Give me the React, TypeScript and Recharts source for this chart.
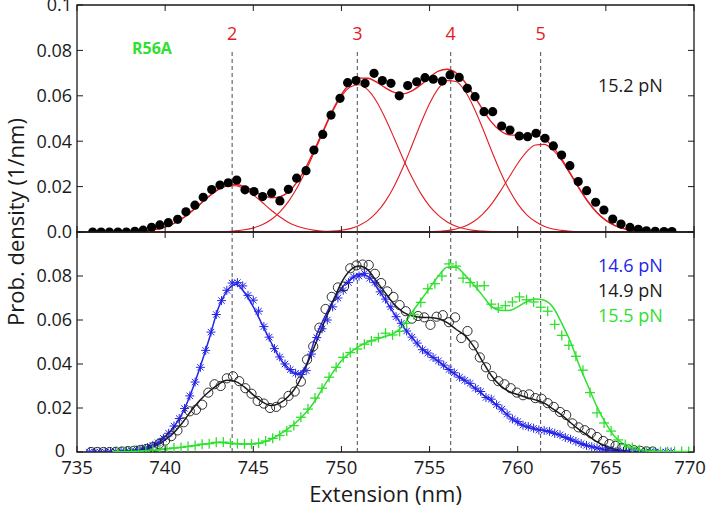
import React from 'react'
import { ComposedChart, Line, Scatter, XAxis, YAxis, ReferenceLine, ReferenceArea, ReferenceDot } from 'recharts'

const FONT = '"Open Sans", "Noto Sans", sans-serif'
const INK = '#1a1a1a'
const RED = '#e41b22'
const BLUE = '#2424e8'
const GREEN = '#2fe02f'
const DASH = '#4a4a4a'

const PLOT_TOP = 5
const PLOT_RIGHT = 694

const xTicks = [735, 740, 745, 750, 755, 760, 765, 770]
const topYTicks = [0, 0.02, 0.04, 0.06, 0.08, 0.1]
const bottomYTicks = [0, 0.02, 0.04, 0.06, 0.08]

const peakNames = ['2', '3', '4', '5']
const peakCenters = [743.8, 750.9, 756.2, 761.3]

// fit grid, 0.5 nm
const grid = [736, 736.5, 737, 737.5, 738, 738.5, 739, 739.5, 740, 740.5, 741, 741.5, 742, 742.5, 743, 743.5, 744, 744.5, 745, 745.5, 746, 746.5, 747, 747.5, 748, 748.5, 749, 749.5, 750, 750.5, 751, 751.5, 752, 752.5, 753, 753.5, 754, 754.5, 755, 755.5, 756, 756.5, 757, 757.5, 758, 758.5, 759, 759.5, 760, 760.5, 761, 761.5, 762, 762.5, 763, 763.5, 764, 764.5, 765, 765.5, 766, 766.5, 767, 767.5, 768, 768.5, 769]

// 15.2 pN: gaussian components and their sum
const peak2 = [0, 0, 0, 0, 0.0001, 0.0003, 0.0006, 0.0012, 0.0022, 0.0038, 0.0061, 0.0091, 0.0124, 0.0158, 0.0186, 0.0202, 0.0204, 0.019, 0.0164, 0.0131, 0.0097, 0.0067, 0.0042, 0.0025, 0.0014, 0.0007, 0.0003, 0.0001, 0, 0, 0, 0, 0, 0, 0, 0, 0, 0, 0, 0, 0, 0, 0, 0, 0, 0, 0, 0, 0, 0, 0, 0, 0, 0, 0, 0, 0, 0, 0, 0, 0, 0, 0, 0, 0, 0, 0]
const peak3 = [0, 0, 0, 0, 0, 0, 0, 0, 0, 0, 0, 0, 0, 0, 0.0001, 0.0002, 0.0005, 0.001, 0.0018, 0.0032, 0.0054, 0.0088, 0.0135, 0.0197, 0.0273, 0.0359, 0.0448, 0.0531, 0.0598, 0.0639, 0.0649, 0.0626, 0.0574, 0.0499, 0.0412, 0.0323, 0.0241, 0.017, 0.0114, 0.0073, 0.0044, 0.0025, 0.0014, 0.0007, 0.0004, 0.0002, 0.0001, 0, 0, 0, 0, 0, 0, 0, 0, 0, 0, 0, 0, 0, 0, 0, 0, 0, 0, 0, 0]
const peak4 = [0, 0, 0, 0, 0, 0, 0, 0, 0, 0, 0, 0, 0, 0, 0, 0, 0, 0, 0, 0, 0, 0, 0, 0, 0, 0.0001, 0.0002, 0.0004, 0.0008, 0.0015, 0.0029, 0.0051, 0.0086, 0.0136, 0.0203, 0.0286, 0.0381, 0.0478, 0.0566, 0.0633, 0.0667, 0.0663, 0.0622, 0.055, 0.0459, 0.0361, 0.0268, 0.0188, 0.0124, 0.0077, 0.0046, 0.0025, 0.0013, 0.0007, 0.0003, 0.0001, 0, 0, 0, 0, 0, 0, 0, 0, 0, 0, 0]
const peak5 = [0, 0, 0, 0, 0, 0, 0, 0, 0, 0, 0, 0, 0, 0, 0, 0, 0, 0, 0, 0, 0, 0, 0, 0, 0, 0, 0, 0, 0, 0, 0, 0, 0, 0, 0, 0, 0, 0, 0.0001, 0.0003, 0.0006, 0.0013, 0.0025, 0.0046, 0.0078, 0.0122, 0.0178, 0.024, 0.0302, 0.0353, 0.0383, 0.0386, 0.0361, 0.0314, 0.0253, 0.019, 0.0132, 0.0085, 0.0051, 0.0029, 0.0015, 0.0007, 0.0003, 0.0001, 0, 0, 0]
const fit152 = [0, 0, 0, 0, 0.0001, 0.0003, 0.0006, 0.0012, 0.0022, 0.0038, 0.0061, 0.0091, 0.0124, 0.0158, 0.0187, 0.0204, 0.0209, 0.02, 0.0182, 0.0163, 0.0151, 0.0155, 0.0177, 0.0222, 0.0287, 0.0367, 0.0453, 0.0536, 0.0606, 0.0654, 0.0678, 0.0677, 0.066, 0.0635, 0.0615, 0.0609, 0.0622, 0.0648, 0.0681, 0.0709, 0.0717, 0.0701, 0.0661, 0.0603, 0.0541, 0.0485, 0.0447, 0.0428, 0.0426, 0.043, 0.0429, 0.0411, 0.0374, 0.0321, 0.0256, 0.0191, 0.0132, 0.0085, 0.0051, 0.0029, 0.0015, 0.0007, 0.0003, 0.0001, 0, 0, 0]

// lower panel fits
const fit146 = [0, 0, 0.0001, 0.0003, 0.0006, 0.0011, 0.002, 0.0037, 0.007, 0.0115, 0.018, 0.0275, 0.039, 0.0515, 0.065, 0.073, 0.0762, 0.0725, 0.066, 0.058, 0.05, 0.0428, 0.0375, 0.0355, 0.0395, 0.0515, 0.0605, 0.0685, 0.0745, 0.0785, 0.0808, 0.0798, 0.075, 0.069, 0.0628, 0.057, 0.052, 0.0474, 0.0441, 0.0412, 0.038, 0.035, 0.0325, 0.0295, 0.0262, 0.0232, 0.02, 0.0162, 0.0133, 0.0114, 0.0104, 0.0097, 0.0086, 0.0072, 0.0056, 0.004, 0.0028, 0.0018, 0.001, 0.0006, 0.0003, 0.0001, 0, 0, 0, 0, 0]
const fit149 = [0, 0, 0, 0.0001, 0.0003, 0.0007, 0.0015, 0.003, 0.0055, 0.0088, 0.0135, 0.019, 0.0238, 0.0275, 0.0306, 0.0326, 0.032, 0.0295, 0.026, 0.0228, 0.0211, 0.0222, 0.0253, 0.0305, 0.039, 0.0485, 0.0585, 0.068, 0.077, 0.0826, 0.0845, 0.0828, 0.0775, 0.0722, 0.067, 0.0636, 0.0619, 0.0612, 0.0611, 0.0606, 0.0588, 0.0558, 0.053, 0.048, 0.0412, 0.0348, 0.0303, 0.0275, 0.0261, 0.0248, 0.0237, 0.0222, 0.0196, 0.0168, 0.0133, 0.0101, 0.0074, 0.0046, 0.0027, 0.0013, 0.0006, 0.0002, 0, 0, 0, 0, 0]
const fit155 = [0, 0, 0, 0, 0.0001, 0.0002, 0.0005, 0.0009, 0.0014, 0.0018, 0.0022, 0.0028, 0.0034, 0.0039, 0.0043, 0.0041, 0.0037, 0.0035, 0.0037, 0.0043, 0.0058, 0.008, 0.0107, 0.014, 0.0181, 0.0232, 0.0298, 0.036, 0.0415, 0.0452, 0.048, 0.05, 0.0513, 0.0526, 0.054, 0.0575, 0.0635, 0.069, 0.0745, 0.08, 0.084, 0.084, 0.0805, 0.076, 0.0712, 0.0662, 0.0644, 0.0643, 0.066, 0.0683, 0.0696, 0.069, 0.0658, 0.0585, 0.05, 0.0392, 0.0298, 0.0205, 0.013, 0.007, 0.0036, 0.0017, 0.0007, 0.0003, 0.0001, 0, 0]

// measured histograms [extension, density]
const hist152: [number, number][] = [[735.89, 0], [736.37, 0], [736.84, 0], [737.32, 0], [737.8, 0], [738.28, 0.0003], [738.75, 0.0008], [739.23, 0.0021], [739.7, 0.0031], [740.18, 0.0041], [740.71, 0.0056], [741.18, 0.0089], [741.69, 0.0118], [742.16, 0.0153], [742.64, 0.0187], [743.11, 0.0207], [743.58, 0.0217], [744.06, 0.0229], [744.53, 0.0186], [745.04, 0.0178], [745.53, 0.0156], [746.04, 0.0172], [746.51, 0.0137], [746.99, 0.0188], [747.46, 0.0237], [747.99, 0.027], [748.44, 0.0361], [748.94, 0.043], [749.41, 0.0515], [749.92, 0.0589], [750.35, 0.0658], [750.83, 0.0667], [751.34, 0.0655], [751.85, 0.0699], [752.32, 0.0667], [752.81, 0.0655], [753.28, 0.06], [753.76, 0.0645], [754.27, 0.0662], [754.74, 0.068], [755.21, 0.0673], [755.72, 0.0665], [756.16, 0.0692], [756.68, 0.0681], [757.14, 0.0633], [757.58, 0.0596], [758.09, 0.053], [758.58, 0.053], [759.09, 0.0467], [759.56, 0.0449], [760.09, 0.0423], [760.56, 0.042], [761.04, 0.0435], [761.55, 0.0413], [762.02, 0.0379], [762.49, 0.0339], [762.96, 0.0292], [763.43, 0.0222], [763.91, 0.0182], [764.42, 0.0131], [764.89, 0.0097], [765.39, 0.0057], [765.86, 0.0035], [766.37, 0.002], [766.84, 0.0012], [767.3, 0.0005], [767.8, 0.0003], [768.3, 0.0002], [768.75, 0.0002]]

const hist146: [number, number][] = [[735.7, 0], [736.0, 0], [736.3, 0], [736.6, 0], [736.9, 0.0001], [737.2, 0.0002], [737.5, 0.0003], [737.8, 0.0005], [738.1, 0.0007], [738.4, 0.001], [738.7, 0.0014], [739.0, 0.002], [739.3, 0.003], [739.6, 0.0042], [739.9, 0.0062], [740.2, 0.0085], [740.5, 0.0118], [740.8, 0.0152], [741.1, 0.0198], [741.4, 0.0255], [741.7, 0.0318], [742.0, 0.0385], [742.3, 0.0462], [742.6, 0.0545], [742.9, 0.0625], [743.2, 0.0688], [743.5, 0.0735], [743.8, 0.0768], [744.1, 0.077], [744.4, 0.0755], [744.7, 0.0712], [745.0, 0.069], [745.3, 0.064], [745.6, 0.057], [745.9, 0.0522], [746.2, 0.047], [746.5, 0.0432], [746.8, 0.04], [747.1, 0.0375], [747.4, 0.0358], [747.7, 0.0352], [748.0, 0.037], [748.3, 0.0445], [748.6, 0.052], [748.9, 0.056], [749.2, 0.06], [749.5, 0.066], [749.8, 0.07], [750.1, 0.0735], [750.4, 0.077], [750.7, 0.0795], [751.0, 0.08], [751.3, 0.0812], [751.6, 0.079], [751.9, 0.077], [752.2, 0.0728], [752.5, 0.0695], [752.8, 0.066], [753.1, 0.0615], [753.4, 0.0585], [753.7, 0.055], [754.0, 0.0522], [754.3, 0.0495], [754.6, 0.0465], [754.9, 0.045], [755.2, 0.043], [755.5, 0.0414], [755.8, 0.0395], [756.1, 0.0375], [756.4, 0.036], [756.7, 0.034], [757.0, 0.0326], [757.3, 0.0312], [757.6, 0.029], [757.9, 0.0275], [758.2, 0.0248], [758.5, 0.024], [758.8, 0.0215], [759.1, 0.0195], [759.4, 0.0172], [759.7, 0.015], [760.0, 0.0138], [760.3, 0.0122], [760.6, 0.0115], [760.9, 0.0108], [761.2, 0.01], [761.5, 0.0098], [761.8, 0.0094], [762.1, 0.0085], [762.4, 0.0078], [762.7, 0.0066], [763.0, 0.0058], [763.3, 0.0048], [763.6, 0.0038], [763.9, 0.003], [764.2, 0.0024], [764.5, 0.0018], [764.8, 0.0013], [765.1, 0.0009], [765.4, 0.0007], [765.7, 0.0005], [766.0, 0.0003], [766.3, 0.0002], [766.6, 0.0001], [766.9, 0.0001], [767.2, 0], [767.5, 0], [767.8, 0], [768.1, 0], [768.4, 0], [768.7, 0]]

const hist149: [number, number][] = [[735.8, 0], [736.15, 0], [736.5, 0], [736.85, 0], [737.2, 0.0001], [737.55, 0.0002], [737.9, 0.0004], [738.25, 0.0006], [738.6, 0.0009], [738.95, 0.0014], [739.3, 0.0022], [739.65, 0.0036], [740.0, 0.0052], [740.35, 0.0072], [740.7, 0.0098], [741.05, 0.0135], [741.4, 0.0185], [741.75, 0.0192], [742.1, 0.0215], [742.45, 0.027], [742.8, 0.0308], [743.15, 0.03], [743.5, 0.0335], [743.85, 0.0344], [744.2, 0.0322], [744.55, 0.029], [744.9, 0.0265], [745.25, 0.0232], [745.6, 0.022], [745.95, 0.02], [746.3, 0.0205], [746.65, 0.0225], [747.0, 0.0255], [747.35, 0.0275], [747.7, 0.032], [748.05, 0.042], [748.4, 0.048], [748.75, 0.0565], [749.1, 0.065], [749.45, 0.0705], [749.8, 0.0748], [750.15, 0.0752], [750.5, 0.0835], [750.85, 0.0848], [751.2, 0.0852], [751.55, 0.085], [751.9, 0.081], [752.25, 0.0768], [752.6, 0.073], [752.95, 0.0705], [753.3, 0.0668], [753.65, 0.064], [754.0, 0.0606], [754.35, 0.0618], [754.7, 0.0612], [755.05, 0.0578], [755.4, 0.0615], [755.75, 0.0622], [756.1, 0.059], [756.45, 0.0612], [756.8, 0.0518], [757.15, 0.055], [757.5, 0.0485], [757.85, 0.043], [758.2, 0.0385], [758.55, 0.0345], [758.9, 0.0322], [759.25, 0.0308], [759.6, 0.029], [759.95, 0.027], [760.3, 0.0258], [760.65, 0.0262], [761.0, 0.0245], [761.35, 0.0242], [761.7, 0.0222], [762.05, 0.0205], [762.4, 0.0182], [762.75, 0.0168], [763.1, 0.013], [763.45, 0.0112], [763.8, 0.0099], [764.15, 0.0085], [764.5, 0.0068], [764.85, 0.005], [765.2, 0.0036], [765.55, 0.0028], [765.9, 0.0017], [766.25, 0.0012], [766.6, 0.0008], [766.95, 0.0005], [767.3, 0.0003], [767.65, 0.0002]]

const hist155: [number, number][] = [[737.3, 0.0002], [737.7, 0.0002], [738.1, 0.0003], [738.5, 0.0004], [738.9, 0.0006], [739.3, 0.0008], [739.7, 0.0011], [740.1, 0.0014], [740.5, 0.0018], [740.9, 0.0021], [741.3, 0.0025], [741.7, 0.0029], [742.1, 0.0035], [742.5, 0.0038], [742.9, 0.0044], [743.3, 0.0045], [743.7, 0.004], [744.1, 0.0038], [744.5, 0.0037], [744.9, 0.0036], [745.3, 0.004], [745.7, 0.005], [746.1, 0.0062], [746.5, 0.0075], [746.9, 0.0095], [747.3, 0.012], [747.7, 0.0158], [748.1, 0.0195], [748.5, 0.0245], [748.9, 0.029], [749.3, 0.034], [749.7, 0.0385], [750.1, 0.043], [750.5, 0.0452], [750.9, 0.0468], [751.3, 0.049], [751.7, 0.0505], [752.1, 0.052], [752.5, 0.054], [752.9, 0.0532], [753.3, 0.0548], [753.7, 0.0585], [754.1, 0.0625], [754.5, 0.068], [754.9, 0.0742], [755.3, 0.0765], [755.7, 0.08], [756.1, 0.0855], [756.5, 0.0845], [756.9, 0.079], [757.3, 0.077], [757.7, 0.0755], [758.1, 0.0756], [758.5, 0.0672], [758.9, 0.0655], [759.3, 0.0665], [759.7, 0.0682], [760.1, 0.0705], [760.5, 0.0692], [760.9, 0.0682], [761.3, 0.0658], [761.7, 0.064], [762.1, 0.058], [762.5, 0.053], [762.9, 0.0485], [763.3, 0.0435], [763.7, 0.0372], [764.1, 0.027], [764.5, 0.0178], [764.9, 0.0132], [765.3, 0.0095], [765.7, 0.0055], [766.1, 0.0034], [766.5, 0.002], [766.9, 0.001], [767.3, 0.0005], [767.7, 0.0003], [768.1, 0.0002], [768.5, 0.0002], [768.9, 0.0002], [769.3, 0.0002], [769.7, 0.0002]]

const onGrid = (vals: number[]) => grid.map((x, i) => ({ x, y: vals[i] }))
const pts = (rows: [number, number][]) => rows.map(([x, y]) => ({ x, y }))

function XTick(props: any) {
  const { x, y, payload, showLabel } = props
  // keep the last label inside the picture
  const tx = Math.min(x, 690)
  return (
    <g>
      <line x1={x} x2={x} y1={y} y2={y - 6} stroke={INK} />
      <line x1={x} x2={x} y1={PLOT_TOP} y2={PLOT_TOP + 6} stroke={INK} />
      {showLabel && (
        <text x={tx} y={y + 22} textAnchor="middle" fontSize={18.5} fontFamily={FONT} fill={INK}>
          {payload.value}
        </text>
      )}
    </g>
  )
}

function YTick(props: any) {
  const { x, y, payload, fmt } = props
  const label = fmt(payload.value)
  // the lone "0" of the lower panel sits a little further left, as in the source figure
  const tx = label === '0' ? x - 12 : x - 5
  return (
    <g>
      <line x1={x} x2={x + 6} y1={y} y2={y} stroke={INK} />
      <line x1={PLOT_RIGHT} x2={PLOT_RIGHT - 6} y1={y} y2={y} stroke={INK} />
      <text x={tx} y={y} dy={label === '0' ? '0.25em' : '0.36em'} textAnchor="end" fontSize={18} fontFamily={FONT} fill={INK}>
        {label}
      </text>
    </g>
  )
}

const fmtTop = (v: number) => (v === 0 ? '0.0' : v === 0.1 ? '0.1' : String(v))
const fmtBottom = (v: number) => String(v)

const FilledDot = (p: any) => <circle cx={p.cx} cy={p.cy} r={4.6} fill="#000" />
const OpenRing = (p: any) => <circle cx={p.cx} cy={p.cy} r={4.6} fill="none" stroke={INK} strokeWidth={0.9} />
const Asterisk = (p: any) => {
  const r = 4.5
  const d = 3.2
  return (
    <g stroke={BLUE} strokeWidth={1}>
      <line x1={p.cx - r} x2={p.cx + r} y1={p.cy} y2={p.cy} />
      <line x1={p.cx} x2={p.cx} y1={p.cy - r} y2={p.cy + r} />
      <line x1={p.cx - d} x2={p.cx + d} y1={p.cy - d} y2={p.cy + d} />
      <line x1={p.cx - d} x2={p.cx + d} y1={p.cy + d} y2={p.cy - d} />
    </g>
  )
}
const PlusMark = (p: any) => (
  <g stroke={GREEN} strokeWidth={1.3}>
    <line x1={p.cx - 5} x2={p.cx + 5} y1={p.cy} y2={p.cy} />
    <line x1={p.cx} x2={p.cx} y1={p.cy - 5} y2={p.cy + 5} />
  </g>
)

const axisCommon = {
  type: 'number' as const,
  tickSize: 0,
  tickMargin: 0,
  axisLine: false,
  tickLine: false,
  allowDataOverflow: true,
}

export default function App() {
  return (
    <div style={{ position: 'fixed', left: 0, top: 0, width: 708, height: 508, background: '#fff', fontFamily: FONT }}>
      {/* upper panel: 15.2 pN with gaussian decomposition */}
      <div style={{ position: 'absolute', left: 0, top: 0 }}>
        <ComposedChart width={708} height={262} margin={{ top: 5, right: 14, bottom: 0, left: 0 }}>
          <XAxis {...axisCommon} dataKey="x" domain={[735, 770]} ticks={xTicks} interval={0} height={30} tick={<XTick />} />
          <YAxis {...axisCommon} dataKey="y" domain={[0, 0.1]} ticks={topYTicks} interval={0} width={77} tick={<YTick fmt={fmtTop} />} />
          <ReferenceArea x1={735} x2={770} y1={0} y2={0.1} fill="none" stroke={INK} strokeWidth={1.3} />
          {peakCenters.map((c) => (
            <ReferenceLine key={c} segment={[{ x: c, y: 0.0793 }, { x: c, y: 0 }]} stroke={DASH} strokeDasharray="4 3" strokeWidth={1} />
          ))}
          {peakCenters.map((c, i) => (
            <ReferenceDot key={'n' + c} x={c} y={0.0875} r={0} fill="none" stroke="none"
              label={{ value: peakNames[i], position: 'center', fill: RED, fontSize: 18, fontFamily: FONT }} />
          ))}
          <Scatter data={pts(hist152)} shape={FilledDot} isAnimationActive={false} />
          <Line data={onGrid(peak2)} dataKey="y" type="monotone" stroke={RED} strokeWidth={1.1} dot={false} activeDot={false} isAnimationActive={false} />
          <Line data={onGrid(peak3)} dataKey="y" type="monotone" stroke={RED} strokeWidth={1.1} dot={false} activeDot={false} isAnimationActive={false} />
          <Line data={onGrid(peak4)} dataKey="y" type="monotone" stroke={RED} strokeWidth={1.1} dot={false} activeDot={false} isAnimationActive={false} />
          <Line data={onGrid(peak5)} dataKey="y" type="monotone" stroke={RED} strokeWidth={1.1} dot={false} activeDot={false} isAnimationActive={false} />
          <Line data={onGrid(fit152)} dataKey="y" type="monotone" stroke={RED} strokeWidth={1.4} dot={false} activeDot={false} isAnimationActive={false} />
        </ComposedChart>
      </div>

      {/* lower panel: three forces */}
      <div style={{ position: 'absolute', left: 0, top: 227 }}>
        <ComposedChart width={708} height={281} margin={{ top: 5, right: 14, bottom: 0, left: 0 }}>
          <XAxis {...axisCommon} dataKey="x" domain={[735, 770]} ticks={xTicks} interval={0} height={56} tick={<XTick showLabel />}
            label={{ value: 'Extension (nm)', position: 'insideBottom', offset: 6, fontSize: 22, fontFamily: FONT, fill: INK }} />
          <YAxis {...axisCommon} dataKey="y" domain={[0, 0.1]} ticks={bottomYTicks} interval={0} width={77} tick={<YTick fmt={fmtBottom} />} />
          <ReferenceArea x1={735} x2={770} y1={0} y2={0.1} fill="none" stroke={INK} strokeWidth={1.3} />
          {peakCenters.map((c) => (
            <ReferenceLine key={c} x={c} stroke={DASH} strokeDasharray="4 3" strokeWidth={1} />
          ))}
          <Scatter data={pts(hist146)} shape={Asterisk} isAnimationActive={false} />
          <Scatter data={pts(hist149)} shape={OpenRing} isAnimationActive={false} />
          <Scatter data={pts(hist155)} shape={PlusMark} isAnimationActive={false} />
          <Line data={onGrid(fit146)} dataKey="y" type="monotone" stroke={BLUE} strokeWidth={1.5} dot={false} activeDot={false} isAnimationActive={false} />
          <Line data={onGrid(fit149)} dataKey="y" type="monotone" stroke={INK} strokeWidth={1.5} dot={false} activeDot={false} isAnimationActive={false} />
          <Line data={onGrid(fit155)} dataKey="y" type="monotone" stroke={GREEN} strokeWidth={1.5} dot={false} activeDot={false} isAnimationActive={false} />
        </ComposedChart>
      </div>

      {/* shared axis title and panel labels */}
      <svg width={708} height={508} style={{ position: 'absolute', left: 0, top: 0, pointerEvents: 'none' }}>
        <text transform="translate(15,222) rotate(-90)" textAnchor="middle" dominantBaseline="central" fontSize={22} fontFamily={FONT} fill={INK}>
          Prob. density (1/nm)
        </text>
        <text x={132} y={54} fontSize={16} fontWeight={700} fontFamily={FONT} fill={GREEN}>R56A</text>
        <text x={598} y={92} fontSize={18} fontFamily={FONT} fill={INK}>15.2 pN</text>
        <text x={598} y={272} fontSize={18} fontFamily={FONT} fill={BLUE}>14.6 pN</text>
        <text x={598} y={297} fontSize={18} fontFamily={FONT} fill={INK}>14.9 pN</text>
        <text x={598} y={322} fontSize={18} fontFamily={FONT} fill={GREEN}>15.5 pN</text>
      </svg>
    </div>
  )
}
